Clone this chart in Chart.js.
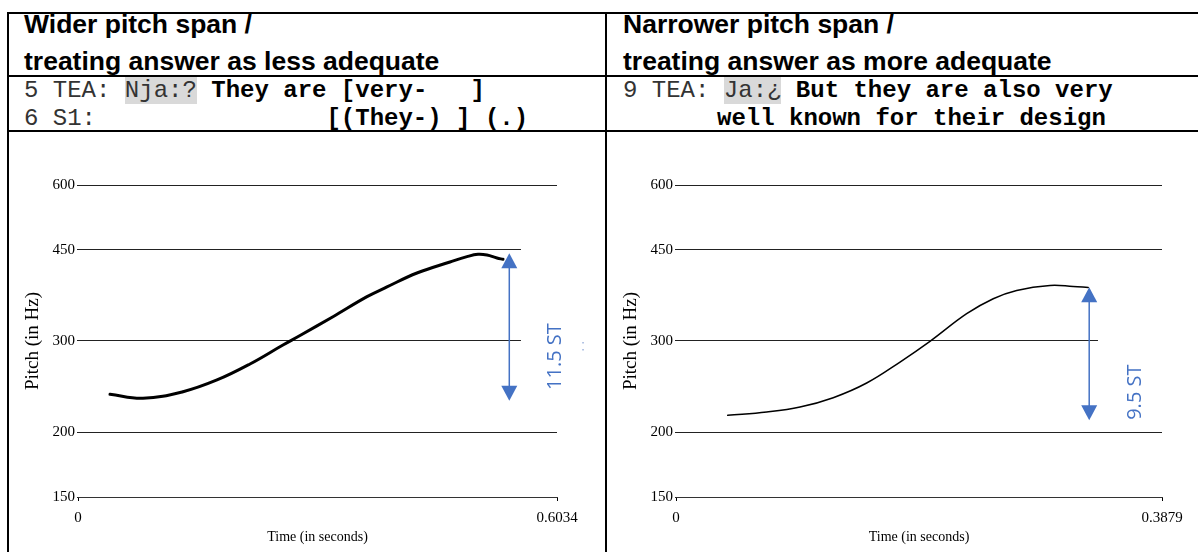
<!DOCTYPE html>
<html>
<head>
<meta charset="utf-8">
<script src="https://cdn.jsdelivr.net/npm/chart.js@4.4.1/dist/chart.umd.min.js"></script>
<style>
  body { margin:0; width:1198px; height:552px; overflow:hidden; background:#fff; position:relative; font-family:'Liberation Sans', Arial, sans-serif; }
  .rule { position:absolute; background:#000; }
  .head { position:absolute; font-weight:bold; font-size:26.5px; line-height:26px; color:#000; white-space:pre; }
  .talk { position:absolute; top:77px; font-family:'Liberation Mono','Courier New',monospace; font-size:24px; line-height:28px; white-space:pre; color:#333; }
  .talk b { color:#000; }
  .talk .hl { background:#d9d9d9; }
  canvas { position:absolute; top:133px; }
</style>
</head>
<body>
<div class="rule" style="left:7px;top:12px;width:1191px;height:2px"></div>
<div class="rule" style="left:7px;top:75px;width:1191px;height:2px"></div>
<div class="rule" style="left:7px;top:130px;width:1191px;height:2px"></div>
<div class="rule" style="left:7px;top:12px;width:2px;height:540px"></div>
<div class="rule" style="left:605px;top:12px;width:2px;height:540px"></div>

<div class="head" style="left:24px;top:11px">Wider pitch span /</div>
<div class="head" style="left:24px;top:48px">treating answer as less adequate</div>
<div class="head" style="left:623px;top:11px">Narrower pitch span /</div>
<div class="head" style="left:623px;top:48px">treating answer as more adequate</div>

<div class="talk" style="left:24px">5 TEA: <span class="hl">Nja:?</span> <b>They are [very-   ]</b>
6 S1:                <b>[(They-) ] (.)</b></div>
<div class="talk" style="left:623px">9 TEA: <span class="hl">Ja:¿</span> <b>But they are also very</b>
<b style="padding-left:94px">well known for their design</b></div>

<canvas id="wide" width="595" height="419" style="left:9px"></canvas>
<canvas id="narrow" width="591" height="419" style="left:607px"></canvas>

<script>
// pitch tracks (time in s, pitch in Hz)
const yTicks = [150, 200, 300, 450, 600];

const timeWide  = [0.0403, 0.0819, 0.1323, 0.1751, 0.2167, 0.2582, 0.2797, 0.3212, 0.3641, 0.3892, 0.4270, 0.4686, 0.4900, 0.5039, 0.5152, 0.5278, 0.5354];
const pitchWide = [236.7, 232.6, 239.5, 252.3, 270.9, 294.7, 307.4, 334.2, 365.3, 381.5, 405.8, 426.2, 436.4, 441.0, 439.6, 433.8, 431.3];

const timeNarrow  = [0.0413, 0.0724, 0.0990, 0.1255, 0.1522, 0.1788, 0.2027, 0.2320, 0.2532, 0.2719, 0.2985, 0.3170, 0.3290];
const pitchNarrow = [215.6, 218.8, 223.7, 233.2, 248.9, 273.2, 299.5, 338.7, 362.0, 375.6, 384.0, 382.3, 380.6];

const xEnds = [0.6034, 0.3879];

// span arrows: label, time, top/bottom Hz
const spanLabels = ['11.5 ST', '9.5 ST'];
const spanTime   = [0.5433, 0.3298];
const spanHz     = [[443, 230], [381, 211]];
const spanLabelHz = [280, 239];

const BLUE = '#4472c4';
const serif = "'Liberation Serif', 'Times New Roman', serif";

// ── arrow + rotated ST label ───────────────────────────────────
const spanNote = {
  id: 'spanNote',
  afterDatasetsDraw(chart, args, o) {
    const { ctx, scales: { x, y } } = chart;
    const ax = x.getPixelForValue(o.time);
    const top = y.getPixelForValue(o.hz[0]);
    const bot = y.getPixelForValue(o.hz[1]);
    ctx.save();

    // white text box of the annotation hides part of the grid
    const bx = x.getPixelForValue(o.boxFrom);
    const b0 = y.getPixelForValue(o.boxHz[0]), b1 = y.getPixelForValue(o.boxHz[1]);
    ctx.fillStyle = '#fff';
    ctx.fillRect(bx, b0, chart.width - bx, b1 - b0);

    ctx.strokeStyle = ctx.fillStyle = BLUE;
    ctx.lineWidth = 1.5;
    ctx.beginPath(); ctx.moveTo(ax, top + 10); ctx.lineTo(ax, bot - 10); ctx.stroke();
    const hw = 8, hl = 15;
    ctx.beginPath(); ctx.moveTo(ax, top); ctx.lineTo(ax - hw, top + hl); ctx.lineTo(ax + hw, top + hl); ctx.closePath(); ctx.fill();
    ctx.beginPath(); ctx.moveTo(ax, bot); ctx.lineTo(ax - hw, bot - hl); ctx.lineTo(ax + hw, bot - hl); ctx.closePath(); ctx.fill();

    if (o.specks) {
      ctx.fillStyle = '#9db3dc';
      ctx.fillRect(ax + 73, y.getPixelForValue(300) + 1, 1.5, 1.5);
      ctx.fillRect(ax + 73, y.getPixelForValue(300) + 8, 1.5, 1.5);
      ctx.fillStyle = BLUE;
    }

    ctx.translate(ax + 46, y.getPixelForValue(o.labelHz));
    ctx.rotate(-Math.PI / 2);
    ctx.font = "20px 'Open Sans'";
    ctx.textAlign = 'center';
    ctx.textBaseline = 'middle';
    ctx.fillText(o.label, 0, 0);
    ctx.restore();
  }
};

function makeChart(id, times, pitch, xEnd, i, width, padRight, box) {
  return new Chart(document.getElementById(id), {
    type: 'line',
    data: {
      datasets: [{
        data: times.map((t, k) => ({ x: t, y: pitch[k] })),
        borderColor: '#000',
        borderWidth: width,
        pointRadius: 0,
        tension: 0.4,
        borderCapStyle: 'round',
        fill: false,
      }]
    },
    options: {
      responsive: false,
      animation: false,
      layout: { padding: { top: 52, right: padRight, left: 0, bottom: 0 } },
      plugins: {
        legend: { display: false },
        tooltip: { enabled: false },
        spanNote: {
          time: spanTime[i], hz: spanHz[i], label: spanLabels[i], labelHz: spanLabelHz[i],
          boxFrom: box.from, boxHz: box.hz, specks: i === 0,
        },
      },
      scales: {
        x: {
          type: 'linear', min: 0, max: xEnd,
          afterBuildTicks: s => { s.ticks = [{ value: 0 }, { value: xEnd }]; },
          afterFit: s => { s.height = 55; },
          ticks: { color: '#000', font: { family: serif, size: 15 }, padding: 8, maxRotation: 0, callback: v => String(v) },
          grid: { display: true, drawOnChartArea: false, drawTicks: true, tickLength: 4, color: '#000' },
          border: { display: true, color: '#333', width: 1 },
          title: { display: true, text: 'Time (in seconds)', color: '#000', font: { family: serif, size: 14 }, padding: { top: 0, bottom: 6 } },
        },
        y: {
          type: 'logarithmic', min: 150, max: 600,
          afterBuildTicks: s => { s.ticks = yTicks.map(v => ({ value: v })); },
          afterFit: s => { s.width = 69; },
          ticks: { color: '#000', font: { family: serif, size: 15 }, padding: 2, callback: v => String(v) },
          grid: { color: '#222', lineWidth: 1, tickLength: 1 },
          border: { display: false },
          title: { display: true, text: 'Pitch (in Hz)', color: '#000', font: { family: serif, size: 19 }, padding: { top: 13, bottom: 0 } },
        }
      }
    },
    plugins: [spanNote]
  });
}

makeChart('wide', timeWide, pitchWide, xEnds[0], 0, 3, 47, { from: 0.558, hz: [460, 290] });
makeChart('narrow', timeNarrow, pitchNarrow, xEnds[1], 1, 1.5, 36, { from: 0.3368, hz: [330, 260] });
</script>
</body>
</html>
